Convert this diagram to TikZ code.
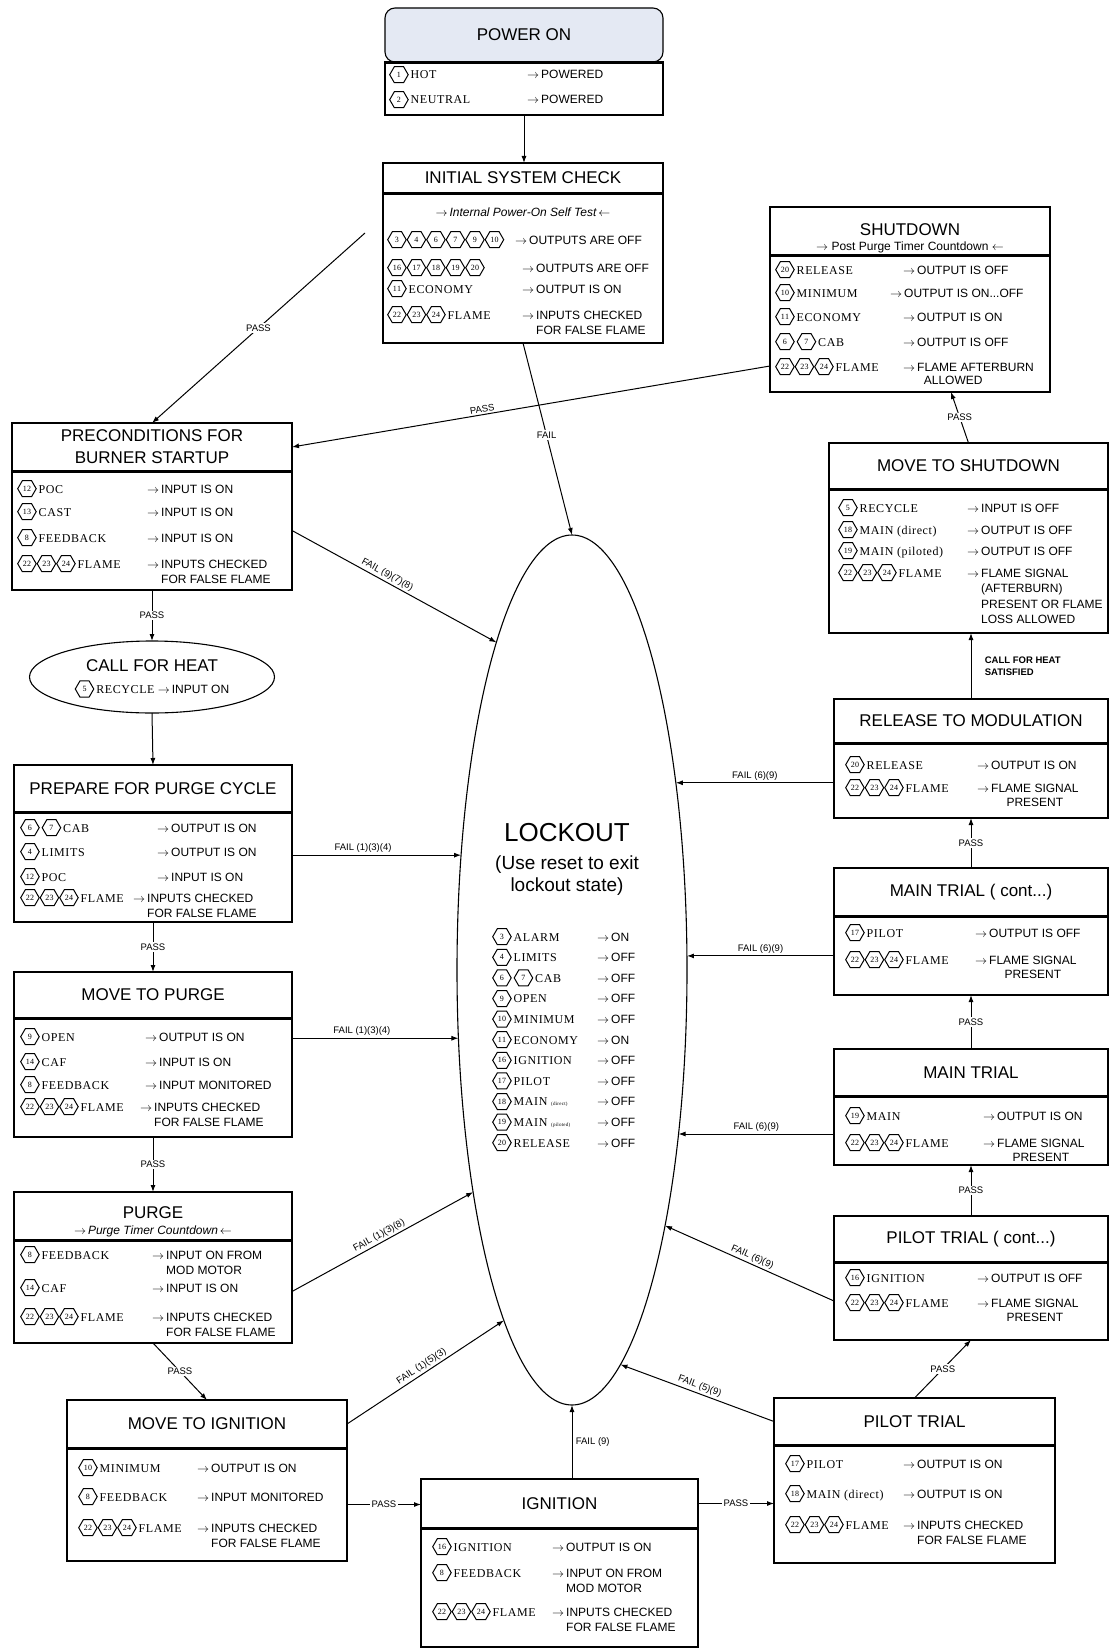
\documentclass[tikz,border=0pt]{standalone}
\usepackage{fontspec}
\setmainfont{Liberation Sans}
\newfontfamily\namefont[LetterSpace=5]{Liberation Serif}
\usetikzlibrary{positioning, calc, shapes.geometric, arrows.meta}

\definecolor{pwrfill}{RGB}{228, 233, 243}

\tikzset{
    headnode/.style = {draw, rectangle, line width=1.1pt, inner sep=0pt, outer sep=0pt,
      anchor=north west, align=center, font=\fontsize{17}{22}\selectfont},
    bodynode/.style = {draw, rectangle, line width=1.1pt, inner sep=0pt, outer sep=0pt,
      path picture={\draw[line width=3.4pt] (path picture bounding box.north west) -- (path picture bounding box.north east);}},
    ovalnode/.style = {draw, ellipse, line width=1.1pt, inner sep=0pt, outer sep=0pt},
    rownode/.style = {inner sep=0pt, anchor=base west, font=\fontsize{12}{15.5}\selectfont},
    textnode/.style = {inner sep=0pt, align=center},
    hexnode/.style = {draw, regular polygon, regular polygon sides=6, line width=1pt,
      minimum size=18.5pt, inner sep=0pt, outer sep=0pt, anchor=center, font=\fontsize{8}{8}\selectfont},
    flow/.style = {line width=1pt, -{Latex[length=7pt, width=5pt]}},
    passlabel/.style = {fill=white, inner sep=1.5pt, font=\fontsize{9.5}{10}\selectfont},
    edgelabel/.style = {above, sloped, inner sep=2pt, font=\fontsize{9.5}{10}\selectfont}
}

\newcommand{\hx}[1]{\tikz[baseline=-4.3pt]\node[hexnode] (hx) {#1};}
\newcommand{\rw}[3][120pt]{\makebox[#1][l]{\namefont #2}$\rightarrow$\,#3}
\newcommand{\flames}{\hx{22}\hx{23}\hx{24}\,FLAME}
\newcommand{\falseflame}{\begin{tabular}[t]{@{}l@{}}INPUTS CHECKED\\FOR FALSE FLAME\end{tabular}}
\newcommand{\flamesig}{\begin{tabular}[t]{@{}c@{}}FLAME SIGNAL\\[-1.5pt]PRESENT\end{tabular}}
\newcommand{\modmotor}{\begin{tabular}[t]{@{}l@{}}INPUT ON FROM\\MOD MOTOR\end{tabular}}

\begin{document}
\begin{tikzpicture}[x=1pt, y=-1pt]
\path[use as bounding box, fill=white] (0,0) rectangle (1111,1648);

% power on
\node[headnode, rounded corners=10pt, fill=pwrfill, minimum width=278pt, minimum height=54pt] (pwrH) at (385,8) {POWER ON};
\node[bodynode, below=0pt of pwrH, minimum width=278pt, minimum height=53pt] (pwrB) {};
\node[rownode] (pwr1) at (389,79) {\rw[138pt]{\hx{1}\,HOT}{POWERED}};
\node[rownode] (pwr2) at (389,104) {\rw[138pt]{\hx{2}\,NEUTRAL}{POWERED}};

% initial system check
\node[headnode, minimum width=280pt, minimum height=30pt] (initH) at (383,163) {INITIAL SYSTEM CHECK};
\node[bodynode, below=0pt of initH, minimum width=280pt, minimum height=150pt] (initB) {};
\node[textnode, font=\fontsize{12}{14}\selectfont\itshape] (init0) at (523,212) {$\rightarrow$\,Internal Power-On Self Test\,$\leftarrow$};
\node[rownode] (init1) at (387,244) {\rw[128pt]{\hx{3}\hx{4}\hx{6}\hx{7}\hx{9}\hx{10}}{OUTPUTS ARE OFF}};
\node[rownode] (init2) at (387,272) {\rw[135pt]{\hx{16}\hx{17}\hx{18}\hx{19}\hx{20}}{OUTPUTS ARE OFF}};
\node[rownode] (init3) at (387,293) {\rw[135pt]{\hx{11}\,ECONOMY}{OUTPUT IS ON}};
\node[rownode] (init4) at (387,319) {\rw[135pt]{\flames}{\falseflame}};

% shutdown
\node[headnode, minimum width=280pt, minimum height=48pt] (sdH) at (770,207) {};
\node[textnode, font=\fontsize{17}{20}\selectfont] (sdT) at (910,230) {SHUTDOWN};
\node[textnode, font=\fontsize{12}{14}\selectfont] (sdS) at (910,247) {$\rightarrow$ Post Purge Timer Countdown $\leftarrow$};
\node[bodynode, below=0pt of sdH, minimum width=280pt, minimum height=137pt] (sdB) {};
\node[rownode] (sd1) at (775,274) {\rw[128pt]{\hx{20}\,RELEASE}{OUTPUT IS OFF}};
\node[rownode] (sd2) at (775,297) {\rw[115pt]{\hx{10}\,MINIMUM}{OUTPUT IS ON...OFF}};
\node[rownode] (sd3) at (775,321) {\rw[128pt]{\hx{11}\,ECONOMY}{OUTPUT IS ON}};
\node[rownode] (sd4) at (775,346) {\rw[128pt]{\hx{6}\,\hx{7}\,CAB}{OUTPUT IS OFF}};
\node[rownode] (sd5) at (775,371) {\rw[128pt]{\flames}{\begin{tabular}[t]{@{}l@{}}FLAME AFTERBURN\\[-2pt]\ \ ALLOWED\end{tabular}}};

% move to shutdown
\node[headnode, minimum width=279pt, minimum height=46pt] (msH) at (829,443) {MOVE TO SHUTDOWN};
\node[bodynode, below=0pt of msH, minimum width=279pt, minimum height=144pt] (msB) {};
\node[rownode] (ms1) at (838,512) {\rw[129pt]{\hx{5}\,RECYCLE}{INPUT IS OFF}};
\node[rownode] (ms2) at (838,534) {\rw[129pt]{\hx{18}\,MAIN (direct)}{OUTPUT IS OFF}};
\node[rownode] (ms3) at (838,555) {\rw[129pt]{\hx{19}\,MAIN (piloted)}{OUTPUT IS OFF}};
\node[rownode] (ms4) at (838,577) {\rw[129pt]{\flames}{\begin{tabular}[t]{@{}l@{}}FLAME SIGNAL\\(AFTERBURN)\\PRESENT OR FLAME\\LOSS ALLOWED\end{tabular}}};

% release to modulation
\node[headnode, minimum width=274pt, minimum height=44pt] (relH) at (834,699) {RELEASE TO MODULATION};
\node[bodynode, below=0pt of relH, minimum width=274pt, minimum height=75pt] (relB) {};
\node[rownode] (rel1) at (845,769) {\rw[132pt]{\hx{20}\,RELEASE}{OUTPUT IS ON}};
\node[rownode] (rel2) at (845,792) {\rw[132pt]{\flames}{\flamesig}};

% main trial (cont)
\node[headnode, minimum width=274pt, minimum height=48pt] (mcH) at (834,868) {MAIN TRIAL ( cont...)};
\node[bodynode, below=0pt of mcH, minimum width=274pt, minimum height=79pt] (mcB) {};
\node[rownode] (mc1) at (845,937) {\rw[130pt]{\hx{17}\,PILOT}{OUTPUT IS OFF}};
\node[rownode] (mc2) at (845,964) {\rw[130pt]{\flames}{\flamesig}};

% main trial
\node[headnode, minimum width=274pt, minimum height=47pt] (mtH) at (834,1049) {MAIN TRIAL};
\node[bodynode, below=0pt of mtH, minimum width=274pt, minimum height=69pt] (mtB) {};
\node[rownode] (mt1) at (845,1120) {\rw[138pt]{\hx{19}\,MAIN}{OUTPUT IS ON}};
\node[rownode] (mt2) at (845,1147) {\rw[138pt]{\flames}{\flamesig}};

% pilot trial (cont)
\node[headnode, minimum width=274pt, minimum height=46pt] (pcH) at (834,1216) {PILOT TRIAL ( cont...)};
\node[bodynode, below=0pt of pcH, minimum width=274pt, minimum height=78pt] (pcB) {};
\node[rownode] (pc1) at (845,1282) {\rw[132pt]{\hx{16}\,IGNITION}{OUTPUT IS OFF}};
\node[rownode] (pc2) at (845,1307) {\rw[132pt]{\flames}{\flamesig}};

% pilot trial
\node[headnode, minimum width=281pt, minimum height=47pt] (pilH) at (774,1398) {PILOT TRIAL};
\node[bodynode, below=0pt of pilH, minimum width=281pt, minimum height=118pt] (pilB) {};
\node[rownode] (pil1) at (785,1468) {\rw[118pt]{\hx{17}\,PILOT}{OUTPUT IS ON}};
\node[rownode] (pil2) at (785,1498) {\rw[118pt]{\hx{18}\,MAIN (direct)}{OUTPUT IS ON}};
\node[rownode] (pil3) at (785,1529) {\rw[118pt]{\flames}{\falseflame}};

% ignition
\node[headnode, minimum width=277pt, minimum height=49pt] (ignH) at (421,1479) {IGNITION};
\node[bodynode, below=0pt of ignH, minimum width=277pt, minimum height=119pt] (ignB) {};
\node[rownode] (ign1) at (432,1551) {\rw[120pt]{\hx{16}\,IGNITION}{OUTPUT IS ON}};
\node[rownode] (ign2) at (432,1577) {\rw[120pt]{\hx{8}\,FEEDBACK}{\modmotor}};
\node[rownode] (ign3) at (432,1616) {\rw[120pt]{\flames}{\falseflame}};

% move to ignition
\node[headnode, minimum width=280pt, minimum height=48pt] (miH) at (67,1400) {MOVE TO IGNITION};
\node[bodynode, below=0pt of miH, minimum width=280pt, minimum height=113pt] (miB) {};
\node[rownode] (mi1) at (78,1472) {\rw[119pt]{\hx{10}\,MINIMUM}{OUTPUT IS ON}};
\node[rownode] (mi2) at (78,1501) {\rw[119pt]{\hx{8}\,FEEDBACK}{INPUT MONITORED}};
\node[rownode] (mi3) at (78,1532) {\rw[119pt]{\flames}{\falseflame}};

% purge
\node[headnode, minimum width=278pt, minimum height=48pt] (purH) at (14,1192) {};
\node[textnode, font=\fontsize{17}{20}\selectfont] (purT) at (153,1213) {PURGE};
\node[textnode, font=\fontsize{12}{14}\selectfont\itshape] (purS) at (153,1231) {$\rightarrow$\,Purge Timer Countdown\,$\leftarrow$};
\node[bodynode, below=0pt of purH, minimum width=278pt, minimum height=103pt] (purB) {};
\node[rownode] (pur1) at (20,1259) {\rw[132pt]{\hx{8}\,FEEDBACK}{\modmotor}};
\node[rownode] (pur2) at (20,1292) {\rw[132pt]{\hx{14}\,CAF}{INPUT IS ON}};
\node[rownode] (pur3) at (20,1321) {\rw[132pt]{\flames}{\falseflame}};

% move to purge
\node[headnode, minimum width=278pt, minimum height=46pt] (mpH) at (14,972) {MOVE TO PURGE};
\node[bodynode, below=0pt of mpH, minimum width=278pt, minimum height=119pt] (mpB) {};
\node[rownode] (mp1) at (20,1041) {\rw[125pt]{\hx{9}\,OPEN}{OUTPUT IS ON}};
\node[rownode] (mp2) at (20,1066) {\rw[125pt]{\hx{14}\,CAF}{INPUT IS ON}};
\node[rownode] (mp3) at (20,1089) {\rw[125pt]{\hx{8}\,FEEDBACK}{INPUT MONITORED}};
\node[rownode] (mp4) at (20,1111) {\rw[120pt]{\flames}{\falseflame}};

% prepare for purge
\node[headnode, minimum width=278pt, minimum height=47pt] (prepH) at (14,765) {PREPARE FOR PURGE CYCLE};
\node[bodynode, below=0pt of prepH, minimum width=278pt, minimum height=110pt] (prepB) {};
\node[rownode] (prep1) at (20,832) {\rw[137pt]{\hx{6}\,\hx{7}\,CAB}{OUTPUT IS ON}};
\node[rownode] (prep2) at (20,856) {\rw[137pt]{\hx{4}\,LIMITS}{OUTPUT IS ON}};
\node[rownode] (prep3) at (20,881) {\rw[137pt]{\hx{12}\,POC}{INPUT IS ON}};
\node[rownode] (prep4) at (20,902) {\rw[113pt]{\flames}{\falseflame}};

% call for heat
\node[ovalnode, minimum width=245pt, minimum height=72pt] (cfh) at (152,677) {};
\node[textnode, font=\fontsize{17}{20}\selectfont] (cfhT) at (152,666) {CALL FOR HEAT};
\node[textnode, font=\fontsize{12}{14}\selectfont] (cfh1) at (152,689) {{\namefont\hx{5}\,RECYCLE}\ $\rightarrow$\,INPUT ON};

% preconditions
\node[headnode, minimum width=280pt, minimum height=48pt] (preH) at (12,423) {PRECONDITIONS FOR\\BURNER STARTUP};
\node[bodynode, below=0pt of preH, minimum width=280pt, minimum height=119pt] (preB) {};
\node[rownode] (pre1) at (17,493) {\rw[130pt]{\hx{12}\,POC}{INPUT IS ON}};
\node[rownode] (pre2) at (17,516) {\rw[130pt]{\hx{13}\,CAST}{INPUT IS ON}};
\node[rownode] (pre3) at (17,542) {\rw[130pt]{\hx{8}\,FEEDBACK}{INPUT IS ON}};
\node[rownode] (pre4) at (17,568) {\rw[130pt]{\flames}{\falseflame}};

% lockout
\node[ovalnode, minimum width=230pt, minimum height=870pt] (lock) at (572,970) {};
\node[textnode, font=\fontsize{26}{30}\selectfont] (lockT) at (567,833) {LOCKOUT};
\node[textnode, font=\fontsize{19}{22}\selectfont] (lockS) at (567,876) {(Use reset to exit\\lockout state)};
\foreach \nm/\st [count=\i from 0] in {{\hx{3}\,ALARM}/ON, {\hx{4}\,LIMITS}/OFF, {\hx{6}\,\hx{7}\,CAB}/OFF,
    {\hx{9}\,OPEN}/OFF, {\hx{10}\,MINIMUM}/OFF, {\hx{11}\,ECONOMY}/ON, {\hx{16}\,IGNITION}/OFF,
    {\hx{17}\,PILOT}/OFF, {\hx{18}\,MAIN {\tiny(direct)}}/OFF, {\hx{19}\,MAIN {\tiny(piloted)}}/OFF,
    {\hx{20}\,RELEASE}/OFF}
  \node[rownode] (lk\i) at (492, 941+20.6*\i) {\rw[105pt]{\nm}{\st}};

% pass path
\coordinate (ipass) at (365,233);
\draw[flow] (pwrB.south) -- (pwrB.south |- initH.north);
\draw[flow] (ipass) -- node[passlabel] {PASS} (preH.north);
\draw[flow] ($(sdB.south west)+(0,-26)$) -- node[edgelabel, pos=.6] {PASS} (preH.east);
\draw[flow] (preB.south) -- node[passlabel] {PASS} (cfh.north);
\draw[flow] (cfh.south) -- (prepH.north);
\draw[flow] (prepB.south) -- node[passlabel] {PASS} (mpH.north);
\draw[flow] (mpB.south) -- node[passlabel] {PASS} (purH.north);
\draw[flow] (purB.south) -- node[passlabel] {PASS} (miH.north);
\draw[flow] (miB.east) -- node[passlabel] {PASS} (miB.east -| ignH.west);
\draw[flow] (ignH.east) -- node[passlabel] {PASS} (ignH.east -| pilB.west);
\draw[flow] (pilH.north) -- node[passlabel] {PASS} (pcB.south);
\draw[flow] (pcH.north) -- node[passlabel] {PASS} (pcH.north |- mtB.south);
\draw[flow] (mtH.north) -- node[passlabel] {PASS} (mtH.north |- mcB.south);
\draw[flow] (mcH.north) -- node[passlabel] {PASS} (mcH.north |- relB.south);
\draw[flow] (relH.north) -- node[right, xshift=10pt, align=left, font=\fontsize{9.5}{12}\selectfont\bfseries] {CALL FOR HEAT\\SATISFIED} (relH.north |- msB.south);
\draw[flow] (msH.north) -- node[passlabel] {PASS} ($(sdB.south east)+(-99,0)$);

% fail paths
\draw[flow] (initB.south) -- node[passlabel, pos=.48] {FAIL} (lock.north);
\draw[flow] (preB.east) -- node[edgelabel, pos=.45] {FAIL (9)(7)(8)} (lock.103.3);
\draw[flow] (lock.134 -| prepB.east) -- node[edgelabel, pos=.42] {FAIL (1)(3)(4)} (lock.134);
\draw[flow] (lock.211.7 -| mpB.east) -- node[edgelabel, pos=.42] {FAIL (1)(3)(4)} (lock.211.7);
\draw[flow] (purB.east) -- node[edgelabel] {FAIL (1)(3)(8)} (lock.246.6);
\draw[flow] (miH.east) -- node[edgelabel] {FAIL (1)(5)(3)} (lock.259.3);
\draw[flow] (lock.south |- ignH.north) -- node[right, font=\fontsize{9.5}{10}\selectfont] {FAIL (9)} (lock.south);
\draw[flow] (pilH.west) -- node[edgelabel] {FAIL (5)(9)} (lock.277);
\draw[flow] (pcB.west) -- node[edgelabel] {FAIL (6)(9)} (lock.290.5);
\draw[flow] (lock.303.75 -| mtB.west) -- node[edgelabel] {FAIL (6)(9)} (lock.303.75);
\draw[flow] (lock.7.2 -| mcB.west) -- node[edgelabel] {FAIL (6)(9)} (lock.7.2);
\draw[flow] (lock.61.4 -| relB.west) -- node[edgelabel] {FAIL (6)(9)} (lock.61.4);
\end{tikzpicture}
\end{document}
